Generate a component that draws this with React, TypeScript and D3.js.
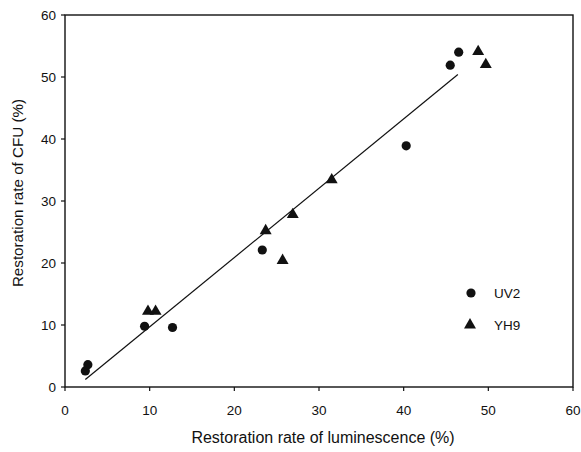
import React from 'react';
import * as d3 from 'd3';

// UV2 (circles)
const uv2X = [2.4, 2.7, 9.4, 12.7, 23.3, 40.3, 45.5, 46.5];
const uv2Y = [2.6, 3.6, 9.8, 9.6, 22.1, 38.9, 51.9, 54.0];
// YH9 (triangles)
const yh9X = [9.8, 10.7, 23.7, 25.7, 26.9, 31.5, 48.8, 49.7];
const yh9Y = [12.2, 12.2, 25.2, 20.4, 27.8, 33.4, 54.1, 52.0];
// regression line end points
const fitX = [2.4, 46.4];
const fitY = [1.2, 50.4];

const xTicks = [0, 10, 20, 30, 40, 50, 60];
const yTicks = [0, 10, 20, 30, 40, 50, 60];

const W = 581;
const H = 452;
const margin = { top: 15, right: 8, bottom: 65, left: 65 };
const font = '"Liberation Sans", Arial, sans-serif';

const App = () => {
  const x = d3.scaleLinear().domain([0, 60]).range([margin.left, W - margin.right]);
  const y = d3.scaleLinear().domain([0, 60]).range([H - margin.bottom, margin.top]);
  const tri = d3.symbol().type(d3.symbolTriangle).size(62)();
  const line = d3.line<number>().x((d) => x(fitX[d])).y((d) => y(fitY[d]));

  return (
    <svg width={W} height={H} style={{ position: 'absolute', left: 0, top: 0, background: '#fff' }}>
      <rect x={x(0)} y={y(60)} width={x(60) - x(0)} height={y(0) - y(60)} fill="none" stroke="#111" strokeWidth={1.4} />
      {xTicks.map((t) => (
        <g key={'x' + t}>
          <line x1={x(t)} x2={x(t)} y1={y(0)} y2={y(0) + 4} stroke="#111" strokeWidth={1.2} />
          <text x={x(t)} y={y(0) + 28} textAnchor="middle" fontFamily={font} fontSize={13.5} fill="#111">{t}</text>
        </g>
      ))}
      {yTicks.map((t) => (
        <g key={'y' + t}>
          <line x1={x(0) - 4} x2={x(0)} y1={y(t)} y2={y(t)} stroke="#111" strokeWidth={1.2} />
          <text x={x(0) - 9} y={y(t) + 4.5} textAnchor="end" fontFamily={font} fontSize={13.5} fill="#111">{t}</text>
        </g>
      ))}
      <path d={line([0, 1]) || ''} stroke="#111" strokeWidth={1.2} fill="none" />
      {uv2X.map((v, i) => (
        <circle key={'c' + i} cx={x(v)} cy={y(uv2Y[i])} r={4.6} fill="#111" />
      ))}
      {yh9X.map((v, i) => (
        <path key={'t' + i} d={tri || ''} transform={`translate(${x(v)},${y(yh9Y[i])})`} fill="#111" />
      ))}
      <circle cx={471} cy={293} r={4.6} fill="#111" />
      <text x={494} y={298} fontFamily={font} fontSize={13.5} fill="#111">UV2</text>
      <path d={tri || ''} transform="translate(470,325)" fill="#111" />
      <text x={494} y={330} fontFamily={font} fontSize={13.5} fill="#111">YH9</text>
      <text x={323} y={443} textAnchor="middle" fontFamily={font} fontSize={16} fill="#111">
        Restoration rate of luminescence (%)
      </text>
      <text transform="translate(23,193) rotate(-90)" textAnchor="middle" fontFamily={font} fontSize={15.2} fill="#111">
        Restoration rate of CFU (%)
      </text>
    </svg>
  );
};

export default App;
